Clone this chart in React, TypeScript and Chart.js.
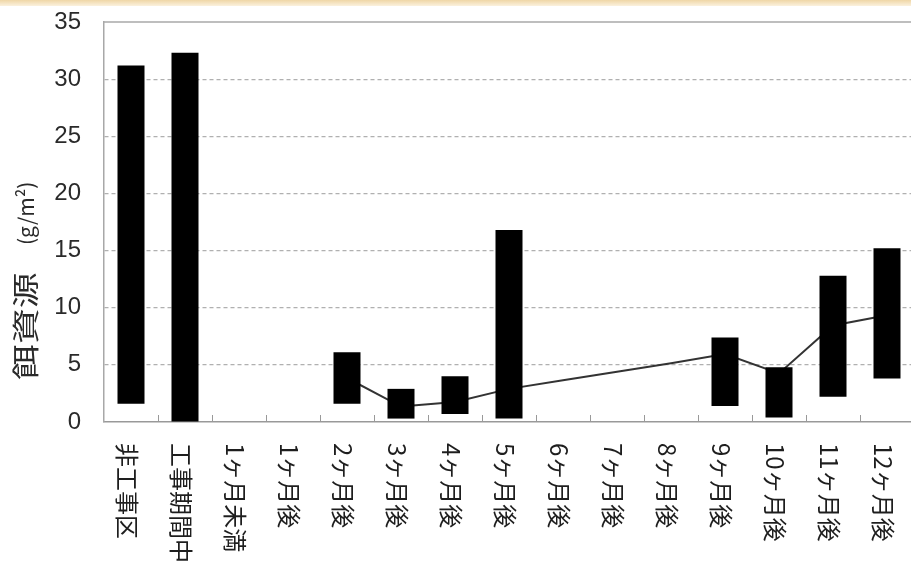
import React, { useEffect, useRef } from "react";
import { Chart, registerables } from "chart.js";

Chart.register(...registerables);

const categories = [
  "非工事区", "工事期間中", "1ヶ月未満", "1ヶ月後", "2ヶ月後", "3ヶ月後", "4ヶ月後",
  "5ヶ月後", "6ヶ月後", "7ヶ月後", "8ヶ月後", "9ヶ月後", "10ヶ月後", "11ヶ月後", "12ヶ月後",
];
const rangeMin: (number | null)[] = [1.6, 0, null, null, 1.6, 0.3, 0.7, 0.3, null, null, null, 1.4, 0.4, 2.2, 3.8];
const rangeMax: (number | null)[] = [31.2, 32.3, null, null, 6.1, 2.9, 4.0, 16.8, null, null, null, 7.4, 4.8, 12.8, 15.2];
const meanLine: (number | null)[] = [null, null, null, null, 3.85, 1.35, 1.75, 2.9, 3.65, 4.4, 5.15, 5.95, 4.25, 8.45, 9.35];
const yTicks = [0, 5, 10, 15, 20, 25, 30, 35];
const yTitleMain = "餌資源";
const yTitleUnit = "(g/m²)";

const JP = '"Noto Sans CJK JP", "Noto Sans", sans-serif';

const decorPlugin = {
  id: "decor",
  afterDraw(chart: any) {
    const { ctx, chartArea } = chart;
    const xs = chart.scales.x;
    ctx.save();
    // top border
    ctx.strokeStyle = "#a8a8a8";
    ctx.lineWidth = 1.5;
    ctx.setLineDash([]);
    ctx.beginPath();
    ctx.moveTo(chartArea.left, chartArea.top);
    ctx.lineTo(chartArea.right, chartArea.top);
    ctx.stroke();
    // boundary ticks inside the plot
    ctx.lineWidth = 1;
    ctx.strokeStyle = "#999";
    for (let i = 1; i < categories.length; i++) {
      const x = Math.round((xs.getPixelForValue(i - 1) + xs.getPixelForValue(i)) / 2) + 0.5;
      ctx.beginPath();
      ctx.moveTo(x, chartArea.bottom - 7);
      ctx.lineTo(x, chartArea.bottom);
      ctx.stroke();
    }
    // x labels, rotated clockwise (reading top to bottom)
    ctx.fillStyle = "#1e1e1e";
    ctx.font = `24px ${JP}`;
    ctx.textAlign = "left";
    ctx.textBaseline = "middle";
    categories.forEach((lab, i) => {
      const x = xs.getPixelForValue(i) - 4;
      ctx.save();
      ctx.translate(x, chartArea.bottom + 21);
      ctx.rotate(Math.PI / 2);
      ctx.fillText(lab, 0, 0);
      ctx.restore();
    });
    // y title
    ctx.save();
    ctx.fillStyle = "#2a2a2a";
    ctx.translate(26, chartArea.bottom - 42);
    ctx.rotate(-Math.PI / 2);
    ctx.textAlign = "left";
    ctx.textBaseline = "middle";
    ctx.save();
    ctx.scale(1.33, 1);
    ctx.font = `27px ${JP}`;
    ctx.fillText(yTitleMain, 0, 0);
    ctx.restore();
    ctx.save();
    ctx.translate(135, 0);
    ctx.font = `21px ${JP}`;
    ctx.fillText(yTitleUnit, 0, 0);
    ctx.restore();
    ctx.restore();
    ctx.restore();
  },
};

export default function App() {
  const ref = useRef<HTMLCanvasElement | null>(null);
  useEffect(() => {
    if (!ref.current) return;
    const barData = categories.map((_, i) =>
      rangeMin[i] == null || rangeMax[i] == null ? null : [rangeMin[i], rangeMax[i]]
    );
    const chart = new Chart(ref.current, {
      type: "bar",
      data: {
        labels: categories,
        datasets: [
          {
            type: "bar",
            data: barData as any,
            backgroundColor: "#000",
            borderWidth: 0,
            barPercentage: 1,
            categoryPercentage: 0.5,
            order: 0,
          },
          {
            type: "line",
            data: meanLine as any,
            borderColor: "#333",
            borderWidth: 2,
            pointRadius: 0,
            fill: false,
            tension: 0,
            order: 1,
          },
        ],
      },
      options: {
        animation: false,
        responsive: true,
        maintainAspectRatio: false,
        layout: { padding: { top: 22, left: 0, right: 0, bottom: 0 } },
        plugins: { legend: { display: false }, tooltip: { enabled: false } },
        scales: {
          x: {
            type: "category",
            grid: { display: false },
            border: { display: true, color: "#999", width: 1.5 },
            ticks: { display: false },
            afterFit: (s: any) => {
              s.height = 141;
              s.paddingLeft = 0;
              s.paddingRight = 0;
            },
          },
          y: {
            min: 0,
            max: 35,
            afterBuildTicks: (s: any) => {
              s.ticks = yTicks.map((v) => ({ value: v }));
            },
            afterFit: (s: any) => {
              s.width = 104;
              s.paddingTop = 0;
              s.paddingBottom = 0;
            },
            grid: {
              drawTicks: false,
              color: (c: any) =>
                c.tick && (c.tick.value === 0 || c.tick.value === 35) ? "rgba(0,0,0,0)" : "#b0b0b0",
              lineWidth: 1.2,
            },
            border: { display: true, color: "#a8a8a8", width: 1.5, dash: [4, 3] },
            ticks: {
              padding: 23,
              color: "#2a2a2a",
              font: { family: '"Liberation Sans", Arial, sans-serif', size: 24 },
            },
          },
        },
      },
      plugins: [decorPlugin],
    } as any);
    return () => chart.destroy();
  }, []);

  return (
    <div
      style={{
        position: "fixed",
        left: 0,
        top: 0,
        width: 911,
        height: 563,
        overflow: "hidden",
        background: "#fff",
      }}
    >
      <div
        style={{
          position: "absolute",
          left: 0,
          top: 0,
          width: 911,
          height: 6,
          background: "linear-gradient(to bottom, #efd6a6, #fbf1de)",
        }}
      />
      <div style={{ position: "absolute", left: 0, top: 0, width: 914, height: 563 }}>
        <canvas ref={ref} />
      </div>
    </div>
  );
}
